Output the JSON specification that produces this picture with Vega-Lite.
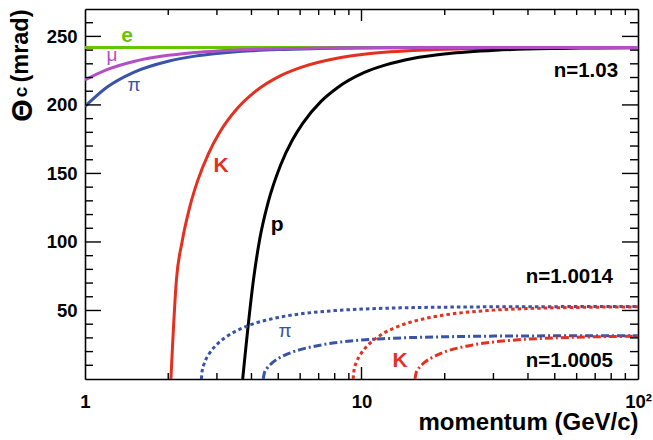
{
  "$schema": "https://vega.github.io/schema/vega-lite/v6.json",
  "width": 553,
  "height": 370,
  "autosize": {"type": "none"},
  "padding": {"left": 85, "top": 9, "right": 15, "bottom": 61},
  "background": "white",
  "datasets": {
    "curves": [
      {"n": "1.03", "particle": "e", "p": 1, "theta": 241.9},
      {"n": "1.03", "particle": "e", "p": 100, "theta": 241.9},

      {"n": "1.03", "particle": "pi", "p": 1, "theta": 198.9},
      {"n": "1.03", "particle": "pi", "p": 1.2, "theta": 212.9},
      {"n": "1.03", "particle": "pi", "p": 1.5, "theta": 223.8},
      {"n": "1.03", "particle": "pi", "p": 2, "theta": 231.9},
      {"n": "1.03", "particle": "pi", "p": 2.5, "theta": 235.6},
      {"n": "1.03", "particle": "pi", "p": 3, "theta": 237.5},
      {"n": "1.03", "particle": "pi", "p": 4, "theta": 239.5},
      {"n": "1.03", "particle": "pi", "p": 5, "theta": 240.4},
      {"n": "1.03", "particle": "pi", "p": 7, "theta": 241.1},
      {"n": "1.03", "particle": "pi", "p": 10, "theta": 241.55},
      {"n": "1.03", "particle": "pi", "p": 15, "theta": 241.76},
      {"n": "1.03", "particle": "pi", "p": 20, "theta": 241.84},
      {"n": "1.03", "particle": "pi", "p": 30, "theta": 241.9},
      {"n": "1.03", "particle": "pi", "p": 50, "theta": 241.93},
      {"n": "1.03", "particle": "pi", "p": 100, "theta": 241.94},

      {"n": "1.03", "particle": "K", "p": 2.045, "theta": 0},
      {"n": "1.03", "particle": "K", "p": 2.142, "theta": 72.9},
      {"n": "1.03", "particle": "K", "p": 2.244, "theta": 99.9},
      {"n": "1.03", "particle": "K", "p": 2.397, "theta": 126.1},
      {"n": "1.03", "particle": "K", "p": 2.55, "theta": 144.2},
      {"n": "1.03", "particle": "K", "p": 2.805, "theta": 165.1},
      {"n": "1.03", "particle": "K", "p": 3.06, "theta": 179.5},
      {"n": "1.03", "particle": "K", "p": 3.57, "theta": 197.9},
      {"n": "1.03", "particle": "K", "p": 4.08, "theta": 209.0},
      {"n": "1.03", "particle": "K", "p": 5.1, "theta": 221.4},
      {"n": "1.03", "particle": "K", "p": 6.12, "theta": 227.8},
      {"n": "1.03", "particle": "K", "p": 8.16, "theta": 234.1},
      {"n": "1.03", "particle": "K", "p": 10.2, "theta": 237.0},
      {"n": "1.03", "particle": "K", "p": 15.3, "theta": 239.75},
      {"n": "1.03", "particle": "K", "p": 20.4, "theta": 240.71},
      {"n": "1.03", "particle": "K", "p": 30.6, "theta": 241.39},
      {"n": "1.03", "particle": "K", "p": 51, "theta": 241.74},
      {"n": "1.03", "particle": "K", "p": 100, "theta": 241.89},

      {"n": "1.03", "particle": "p", "p": 3.718, "theta": 0},
      {"n": "1.03", "particle": "p", "p": 4.08, "theta": 74.5},
      {"n": "1.03", "particle": "p", "p": 4.284, "theta": 102.0},
      {"n": "1.03", "particle": "p", "p": 4.59, "theta": 128.5},
      {"n": "1.03", "particle": "p", "p": 5.1, "theta": 156.2},
      {"n": "1.03", "particle": "p", "p": 5.61, "theta": 174.0},
      {"n": "1.03", "particle": "p", "p": 6.12, "theta": 186.4},
      {"n": "1.03", "particle": "p", "p": 7.14, "theta": 202.6},
      {"n": "1.03", "particle": "p", "p": 8.16, "theta": 212.4},
      {"n": "1.03", "particle": "p", "p": 10.2, "theta": 223.5},
      {"n": "1.03", "particle": "p", "p": 12.24, "theta": 229.2},
      {"n": "1.03", "particle": "p", "p": 15.3, "theta": 233.9},
      {"n": "1.03", "particle": "p", "p": 20.4, "theta": 237.4},
      {"n": "1.03", "particle": "p", "p": 30.6, "theta": 239.96},
      {"n": "1.03", "particle": "p", "p": 51, "theta": 241.23},
      {"n": "1.03", "particle": "p", "p": 71.4, "theta": 241.58},
      {"n": "1.03", "particle": "p", "p": 100, "theta": 241.76},

      {"n": "1.03", "particle": "mu", "p": 1, "theta": 218.2},
      {"n": "1.03", "particle": "mu", "p": 1.2, "theta": 225.7},
      {"n": "1.03", "particle": "mu", "p": 1.5, "theta": 231.7},
      {"n": "1.03", "particle": "mu", "p": 2, "theta": 236.2},
      {"n": "1.03", "particle": "mu", "p": 2.5, "theta": 238.3},
      {"n": "1.03", "particle": "mu", "p": 3, "theta": 239.4},
      {"n": "1.03", "particle": "mu", "p": 4, "theta": 240.5},
      {"n": "1.03", "particle": "mu", "p": 5, "theta": 241.0},
      {"n": "1.03", "particle": "mu", "p": 7, "theta": 241.48},
      {"n": "1.03", "particle": "mu", "p": 10, "theta": 241.71},
      {"n": "1.03", "particle": "mu", "p": 20, "theta": 241.88},
      {"n": "1.03", "particle": "mu", "p": 50, "theta": 241.93},
      {"n": "1.03", "particle": "mu", "p": 100, "theta": 241.94},

      {"n": "1.0014", "particle": "pi", "p": 2.6367, "theta": 0},
      {"n": "1.0014", "particle": "pi", "p": 2.65, "theta": 5.3},
      {"n": "1.0014", "particle": "pi", "p": 2.7, "theta": 11.4},
      {"n": "1.0014", "particle": "pi", "p": 2.8, "theta": 17.8},
      {"n": "1.0014", "particle": "pi", "p": 3, "theta": 25.2},
      {"n": "1.0014", "particle": "pi", "p": 3.25, "theta": 30.9},
      {"n": "1.0014", "particle": "pi", "p": 3.5, "theta": 34.8},
      {"n": "1.0014", "particle": "pi", "p": 4, "theta": 39.8},
      {"n": "1.0014", "particle": "pi", "p": 4.5, "theta": 42.85},
      {"n": "1.0014", "particle": "pi", "p": 5, "theta": 44.93},
      {"n": "1.0014", "particle": "pi", "p": 6, "theta": 47.5},
      {"n": "1.0014", "particle": "pi", "p": 7, "theta": 48.99},
      {"n": "1.0014", "particle": "pi", "p": 8, "theta": 49.93},
      {"n": "1.0014", "particle": "pi", "p": 10, "theta": 51.01},
      {"n": "1.0014", "particle": "pi", "p": 12, "theta": 51.59},
      {"n": "1.0014", "particle": "pi", "p": 15, "theta": 52.06},
      {"n": "1.0014", "particle": "pi", "p": 20, "theta": 52.42},
      {"n": "1.0014", "particle": "pi", "p": 30, "theta": 52.68},
      {"n": "1.0014", "particle": "pi", "p": 50, "theta": 52.81},
      {"n": "1.0014", "particle": "pi", "p": 100, "theta": 52.87},

      {"n": "1.0014", "particle": "K", "p": 9.3263, "theta": 0},
      {"n": "1.0014", "particle": "K", "p": 9.4, "theta": 6.6},
      {"n": "1.0014", "particle": "K", "p": 9.6, "theta": 12.5},
      {"n": "1.0014", "particle": "K", "p": 10, "theta": 19.1},
      {"n": "1.0014", "particle": "K", "p": 10.5, "theta": 24.3},
      {"n": "1.0014", "particle": "K", "p": 11, "theta": 28.0},
      {"n": "1.0014", "particle": "K", "p": 12, "theta": 33.3},
      {"n": "1.0014", "particle": "K", "p": 13, "theta": 36.8},
      {"n": "1.0014", "particle": "K", "p": 15, "theta": 41.4},
      {"n": "1.0014", "particle": "K", "p": 17.5, "theta": 44.7},
      {"n": "1.0014", "particle": "K", "p": 20, "theta": 46.78},
      {"n": "1.0014", "particle": "K", "p": 25, "theta": 49.06},
      {"n": "1.0014", "particle": "K", "p": 30, "theta": 50.26},
      {"n": "1.0014", "particle": "K", "p": 40, "theta": 51.43},
      {"n": "1.0014", "particle": "K", "p": 50, "theta": 51.95},
      {"n": "1.0014", "particle": "K", "p": 70, "theta": 52.41},
      {"n": "1.0014", "particle": "K", "p": 100, "theta": 52.65},

      {"n": "1.0005", "particle": "pi", "p": 4.413, "theta": 0},
      {"n": "1.0005", "particle": "pi", "p": 4.45, "theta": 4.1},
      {"n": "1.0005", "particle": "pi", "p": 4.55, "theta": 7.7},
      {"n": "1.0005", "particle": "pi", "p": 4.75, "theta": 11.7},
      {"n": "1.0005", "particle": "pi", "p": 5, "theta": 14.9},
      {"n": "1.0005", "particle": "pi", "p": 5.5, "theta": 18.9},
      {"n": "1.0005", "particle": "pi", "p": 6, "theta": 21.4},
      {"n": "1.0005", "particle": "pi", "p": 7, "theta": 24.5},
      {"n": "1.0005", "particle": "pi", "p": 8, "theta": 26.4},
      {"n": "1.0005", "particle": "pi", "p": 10, "theta": 28.4},
      {"n": "1.0005", "particle": "pi", "p": 12, "theta": 29.4},
      {"n": "1.0005", "particle": "pi", "p": 15, "theta": 30.2},
      {"n": "1.0005", "particle": "pi", "p": 20, "theta": 30.8},
      {"n": "1.0005", "particle": "pi", "p": 30, "theta": 31.3},
      {"n": "1.0005", "particle": "pi", "p": 50, "theta": 31.5},
      {"n": "1.0005", "particle": "pi", "p": 100, "theta": 31.6},

      {"n": "1.0005", "particle": "K", "p": 15.61, "theta": 0},
      {"n": "1.0005", "particle": "K", "p": 15.75, "theta": 4.2},
      {"n": "1.0005", "particle": "K", "p": 16, "theta": 6.9},
      {"n": "1.0005", "particle": "K", "p": 16.5, "theta": 10.2},
      {"n": "1.0005", "particle": "K", "p": 17, "theta": 12.5},
      {"n": "1.0005", "particle": "K", "p": 18, "theta": 15.7},
      {"n": "1.0005", "particle": "K", "p": 19, "theta": 18.0},
      {"n": "1.0005", "particle": "K", "p": 20, "theta": 19.8},
      {"n": "1.0005", "particle": "K", "p": 22.5, "theta": 22.8},
      {"n": "1.0005", "particle": "K", "p": 25, "theta": 24.7},
      {"n": "1.0005", "particle": "K", "p": 30, "theta": 27.0},
      {"n": "1.0005", "particle": "K", "p": 35, "theta": 28.3},
      {"n": "1.0005", "particle": "K", "p": 40, "theta": 29.1},
      {"n": "1.0005", "particle": "K", "p": 50, "theta": 30.0},
      {"n": "1.0005", "particle": "K", "p": 60, "theta": 30.5},
      {"n": "1.0005", "particle": "K", "p": 80, "theta": 31.0},
      {"n": "1.0005", "particle": "K", "p": 100, "theta": 31.2}
    ],
    "frameTicks": [
      {"tick": "b10", "p": 10, "theta": 0}, {"tick": "b10", "p": 10, "theta": 8.76},
      {"tick": "t10", "p": 10, "theta": 270}, {"tick": "t10", "p": 10, "theta": 261.24},
      {"tick": "b2", "p": 2, "theta": 0}, {"tick": "b2", "p": 2, "theta": 4.38},
      {"tick": "b3", "p": 3, "theta": 0}, {"tick": "b3", "p": 3, "theta": 4.38},
      {"tick": "b4", "p": 4, "theta": 0}, {"tick": "b4", "p": 4, "theta": 4.38},
      {"tick": "b5", "p": 5, "theta": 0}, {"tick": "b5", "p": 5, "theta": 4.38},
      {"tick": "b6", "p": 6, "theta": 0}, {"tick": "b6", "p": 6, "theta": 4.38},
      {"tick": "b7", "p": 7, "theta": 0}, {"tick": "b7", "p": 7, "theta": 4.38},
      {"tick": "b8", "p": 8, "theta": 0}, {"tick": "b8", "p": 8, "theta": 4.38},
      {"tick": "b9", "p": 9, "theta": 0}, {"tick": "b9", "p": 9, "theta": 4.38},
      {"tick": "b20", "p": 20, "theta": 0}, {"tick": "b20", "p": 20, "theta": 4.38},
      {"tick": "b30", "p": 30, "theta": 0}, {"tick": "b30", "p": 30, "theta": 4.38},
      {"tick": "b40", "p": 40, "theta": 0}, {"tick": "b40", "p": 40, "theta": 4.38},
      {"tick": "b50", "p": 50, "theta": 0}, {"tick": "b50", "p": 50, "theta": 4.38},
      {"tick": "b60", "p": 60, "theta": 0}, {"tick": "b60", "p": 60, "theta": 4.38},
      {"tick": "b70", "p": 70, "theta": 0}, {"tick": "b70", "p": 70, "theta": 4.38},
      {"tick": "b80", "p": 80, "theta": 0}, {"tick": "b80", "p": 80, "theta": 4.38},
      {"tick": "b90", "p": 90, "theta": 0}, {"tick": "b90", "p": 90, "theta": 4.38},
      {"tick": "t2", "p": 2, "theta": 270}, {"tick": "t2", "p": 2, "theta": 265.62},
      {"tick": "t3", "p": 3, "theta": 270}, {"tick": "t3", "p": 3, "theta": 265.62},
      {"tick": "t4", "p": 4, "theta": 270}, {"tick": "t4", "p": 4, "theta": 265.62},
      {"tick": "t5", "p": 5, "theta": 270}, {"tick": "t5", "p": 5, "theta": 265.62},
      {"tick": "t6", "p": 6, "theta": 270}, {"tick": "t6", "p": 6, "theta": 265.62},
      {"tick": "t7", "p": 7, "theta": 270}, {"tick": "t7", "p": 7, "theta": 265.62},
      {"tick": "t8", "p": 8, "theta": 270}, {"tick": "t8", "p": 8, "theta": 265.62},
      {"tick": "t9", "p": 9, "theta": 270}, {"tick": "t9", "p": 9, "theta": 265.62},
      {"tick": "t20", "p": 20, "theta": 270}, {"tick": "t20", "p": 20, "theta": 265.62},
      {"tick": "t30", "p": 30, "theta": 270}, {"tick": "t30", "p": 30, "theta": 265.62},
      {"tick": "t40", "p": 40, "theta": 270}, {"tick": "t40", "p": 40, "theta": 265.62},
      {"tick": "t50", "p": 50, "theta": 270}, {"tick": "t50", "p": 50, "theta": 265.62},
      {"tick": "t60", "p": 60, "theta": 270}, {"tick": "t60", "p": 60, "theta": 265.62},
      {"tick": "t70", "p": 70, "theta": 270}, {"tick": "t70", "p": 70, "theta": 265.62},
      {"tick": "t80", "p": 80, "theta": 270}, {"tick": "t80", "p": 80, "theta": 265.62},
      {"tick": "t90", "p": 90, "theta": 270}, {"tick": "t90", "p": 90, "theta": 265.62},
      {"tick": "l50", "p": 1, "theta": 50}, {"tick": "l50", "p": 1.1426, "theta": 50},
      {"tick": "l100", "p": 1, "theta": 100}, {"tick": "l100", "p": 1.1426, "theta": 100},
      {"tick": "l150", "p": 1, "theta": 150}, {"tick": "l150", "p": 1.1426, "theta": 150},
      {"tick": "l200", "p": 1, "theta": 200}, {"tick": "l200", "p": 1.1426, "theta": 200},
      {"tick": "l250", "p": 1, "theta": 250}, {"tick": "l250", "p": 1.1426, "theta": 250},
      {"tick": "r50", "p": 87.52, "theta": 50}, {"tick": "r50", "p": 100, "theta": 50},
      {"tick": "r100", "p": 87.52, "theta": 100}, {"tick": "r100", "p": 100, "theta": 100},
      {"tick": "r150", "p": 87.52, "theta": 150}, {"tick": "r150", "p": 100, "theta": 150},
      {"tick": "r200", "p": 87.52, "theta": 200}, {"tick": "r200", "p": 100, "theta": 200},
      {"tick": "r250", "p": 87.52, "theta": 250}, {"tick": "r250", "p": 100, "theta": 250},
      {"tick": "l10", "p": 1, "theta": 10}, {"tick": "l10", "p": 1.0689, "theta": 10},
      {"tick": "l20", "p": 1, "theta": 20}, {"tick": "l20", "p": 1.0689, "theta": 20},
      {"tick": "l30", "p": 1, "theta": 30}, {"tick": "l30", "p": 1.0689, "theta": 30},
      {"tick": "l40", "p": 1, "theta": 40}, {"tick": "l40", "p": 1.0689, "theta": 40},
      {"tick": "l60", "p": 1, "theta": 60}, {"tick": "l60", "p": 1.0689, "theta": 60},
      {"tick": "l70", "p": 1, "theta": 70}, {"tick": "l70", "p": 1.0689, "theta": 70},
      {"tick": "l80", "p": 1, "theta": 80}, {"tick": "l80", "p": 1.0689, "theta": 80},
      {"tick": "l90", "p": 1, "theta": 90}, {"tick": "l90", "p": 1.0689, "theta": 90},
      {"tick": "l110", "p": 1, "theta": 110}, {"tick": "l110", "p": 1.0689, "theta": 110},
      {"tick": "l120", "p": 1, "theta": 120}, {"tick": "l120", "p": 1.0689, "theta": 120},
      {"tick": "l130", "p": 1, "theta": 130}, {"tick": "l130", "p": 1.0689, "theta": 130},
      {"tick": "l140", "p": 1, "theta": 140}, {"tick": "l140", "p": 1.0689, "theta": 140},
      {"tick": "l160", "p": 1, "theta": 160}, {"tick": "l160", "p": 1.0689, "theta": 160},
      {"tick": "l170", "p": 1, "theta": 170}, {"tick": "l170", "p": 1.0689, "theta": 170},
      {"tick": "l180", "p": 1, "theta": 180}, {"tick": "l180", "p": 1.0689, "theta": 180},
      {"tick": "l190", "p": 1, "theta": 190}, {"tick": "l190", "p": 1.0689, "theta": 190},
      {"tick": "l210", "p": 1, "theta": 210}, {"tick": "l210", "p": 1.0689, "theta": 210},
      {"tick": "l220", "p": 1, "theta": 220}, {"tick": "l220", "p": 1.0689, "theta": 220},
      {"tick": "l230", "p": 1, "theta": 230}, {"tick": "l230", "p": 1.0689, "theta": 230},
      {"tick": "l240", "p": 1, "theta": 240}, {"tick": "l240", "p": 1.0689, "theta": 240},
      {"tick": "l260", "p": 1, "theta": 260}, {"tick": "l260", "p": 1.0689, "theta": 260},
      {"tick": "r10", "p": 93.55, "theta": 10}, {"tick": "r10", "p": 100, "theta": 10},
      {"tick": "r20", "p": 93.55, "theta": 20}, {"tick": "r20", "p": 100, "theta": 20},
      {"tick": "r30", "p": 93.55, "theta": 30}, {"tick": "r30", "p": 100, "theta": 30},
      {"tick": "r40", "p": 93.55, "theta": 40}, {"tick": "r40", "p": 100, "theta": 40},
      {"tick": "r60", "p": 93.55, "theta": 60}, {"tick": "r60", "p": 100, "theta": 60},
      {"tick": "r70", "p": 93.55, "theta": 70}, {"tick": "r70", "p": 100, "theta": 70},
      {"tick": "r80", "p": 93.55, "theta": 80}, {"tick": "r80", "p": 100, "theta": 80},
      {"tick": "r90", "p": 93.55, "theta": 90}, {"tick": "r90", "p": 100, "theta": 90},
      {"tick": "r110", "p": 93.55, "theta": 110}, {"tick": "r110", "p": 100, "theta": 110},
      {"tick": "r120", "p": 93.55, "theta": 120}, {"tick": "r120", "p": 100, "theta": 120},
      {"tick": "r130", "p": 93.55, "theta": 130}, {"tick": "r130", "p": 100, "theta": 130},
      {"tick": "r140", "p": 93.55, "theta": 140}, {"tick": "r140", "p": 100, "theta": 140},
      {"tick": "r160", "p": 93.55, "theta": 160}, {"tick": "r160", "p": 100, "theta": 160},
      {"tick": "r170", "p": 93.55, "theta": 170}, {"tick": "r170", "p": 100, "theta": 170},
      {"tick": "r180", "p": 93.55, "theta": 180}, {"tick": "r180", "p": 100, "theta": 180},
      {"tick": "r190", "p": 93.55, "theta": 190}, {"tick": "r190", "p": 100, "theta": 190},
      {"tick": "r210", "p": 93.55, "theta": 210}, {"tick": "r210", "p": 100, "theta": 210},
      {"tick": "r220", "p": 93.55, "theta": 220}, {"tick": "r220", "p": 100, "theta": 220},
      {"tick": "r230", "p": 93.55, "theta": 230}, {"tick": "r230", "p": 100, "theta": 230},
      {"tick": "r240", "p": 93.55, "theta": 240}, {"tick": "r240", "p": 100, "theta": 240},
      {"tick": "r260", "p": 93.55, "theta": 260}, {"tick": "r260", "p": 100, "theta": 260}
    ],
    "boldLabels": [
      {"p": 1.419, "theta": 245.6, "label": "e", "particle": "e"},
      {"p": 3.104, "theta": 150.7, "label": "K", "particle": "K"},
      {"p": 4.95, "theta": 107.7, "label": "p", "particle": "p"},
      {"p": 13.78, "theta": 9.1, "label": "K", "particle": "K"}
    ],
    "greekLabels": [
      {"p": 1.252, "theta": 231.8, "label": "μ", "particle": "mu"},
      {"p": 1.504, "theta": 209.9, "label": "π", "particle": "pi"},
      {"p": 5.29, "theta": 31.0, "label": "π", "particle": "pi"}
    ],
    "indexLabels": [
      {"p": 84.7, "theta": 220.1, "label": "n=1.03"},
      {"p": 81.2, "theta": 70.4, "label": "n=1.0014"},
      {"p": 81.2, "theta": 9.1, "label": "n=1.0005"}
    ]
  },
  "layer": [
    {
      "data": {"name": "curves"},
      "transform": [{"filter": "datum.n == '1.03'"}],
      "mark": {"type": "line", "strokeWidth": 3, "interpolate": "monotone", "clip": true},
      "encoding": {
        "x": {
          "field": "p", "type": "quantitative",
          "scale": {"type": "log", "domain": [1, 100], "nice": false},
          "axis": {
            "orient": "bottom", "values": [1, 10, 100], "ticks": false,
            "labelExpr": "datum.value == 100 ? '10²' : datum.value == 10 ? '10' : '1'",
            "labelPadding": 13, "labelFlush": false, "labelBaseline": "top",
            "domain": true,
            "title": "momentum (GeV/c)", "titleX": 553, "titleY": 50,
            "titleAlign": "right", "titleBaseline": "alphabetic", "titleAnchor": "end", "titleFontSize": 24
          }
        },
        "y": {
          "field": "theta", "type": "quantitative",
          "scale": {"domain": [0, 270], "nice": false, "zero": false},
          "axis": {
            "orient": "left", "values": [50, 100, 150, 200, 250], "ticks": false,
            "labelPadding": 8, "labelBaseline": "middle", "domain": true,
            "title": "Θ", "titleAngle": 270, "titleX": -53.5, "titleY": 101,
            "titleAlign": "center", "titleBaseline": "alphabetic", "titleFontSize": 29
          }
        },
        "color": {
          "field": "particle", "type": "nominal",
          "scale": {"domain": ["e", "mu", "pi", "K", "p"], "range": ["#66c400", "#b24fc6", "#3853a8", "#e4301f", "#000000"]},
          "legend": null
        }
      }
    },
    {
      "data": {"name": "curves"},
      "transform": [{"filter": "datum.n == '1.0014'"}],
      "mark": {"type": "line", "strokeWidth": 3, "strokeDash": [3.5, 3], "interpolate": "monotone", "clip": true},
      "encoding": {
        "x": {"field": "p", "type": "quantitative", "scale": {"type": "log", "domain": [1, 100], "nice": false}, "axis": null},
        "y": {"field": "theta", "type": "quantitative", "scale": {"domain": [0, 270], "nice": false, "zero": false}, "axis": null},
        "color": {"field": "particle", "type": "nominal", "legend": null}
      }
    },
    {
      "data": {"name": "curves"},
      "transform": [{"filter": "datum.n == '1.0005'"}],
      "mark": {"type": "line", "strokeWidth": 3, "strokeDash": [8, 3, 2, 3], "interpolate": "monotone", "clip": true},
      "encoding": {
        "x": {"field": "p", "type": "quantitative", "scale": {"type": "log", "domain": [1, 100], "nice": false}, "axis": null},
        "y": {"field": "theta", "type": "quantitative", "scale": {"domain": [0, 270], "nice": false, "zero": false}, "axis": null},
        "color": {"field": "particle", "type": "nominal", "legend": null}
      }
    },
    {
      "data": {"name": "frameTicks"},
      "mark": {"type": "line", "color": "black", "strokeWidth": 1.4},
      "encoding": {
        "x": {"field": "p", "type": "quantitative", "scale": {"type": "log", "domain": [1, 100], "nice": false}, "axis": null},
        "y": {"field": "theta", "type": "quantitative", "scale": {"domain": [0, 270], "nice": false, "zero": false}, "axis": null},
        "detail": {"field": "tick", "type": "nominal"}
      }
    },
    {
      "data": {"name": "boldLabels"},
      "mark": {"type": "text", "font": "Liberation Sans", "fontWeight": "bold", "fontSize": 21, "align": "center", "baseline": "alphabetic"},
      "encoding": {
        "x": {"field": "p", "type": "quantitative", "scale": {"type": "log", "domain": [1, 100], "nice": false}, "axis": null},
        "y": {"field": "theta", "type": "quantitative", "scale": {"domain": [0, 270], "nice": false, "zero": false}, "axis": null},
        "text": {"field": "label"},
        "color": {"field": "particle", "type": "nominal", "legend": null}
      }
    },
    {
      "data": {"name": "greekLabels"},
      "mark": {"type": "text", "font": "Liberation Sans", "fontWeight": "normal", "fontSize": 19, "align": "center", "baseline": "alphabetic"},
      "encoding": {
        "x": {"field": "p", "type": "quantitative", "scale": {"type": "log", "domain": [1, 100], "nice": false}, "axis": null},
        "y": {"field": "theta", "type": "quantitative", "scale": {"domain": [0, 270], "nice": false, "zero": false}, "axis": null},
        "text": {"field": "label"},
        "color": {"field": "particle", "type": "nominal", "legend": null}
      }
    },
    {
      "data": {"name": "indexLabels"},
      "mark": {"type": "text", "font": "Liberation Sans", "fontWeight": "bold", "fontSize": 20.5, "align": "right", "baseline": "alphabetic", "color": "black"},
      "encoding": {
        "x": {
          "field": "p", "type": "quantitative",
          "scale": {"type": "log", "domain": [1, 100], "nice": false},
          "axis": {
            "orient": "top", "ticks": false, "labels": false, "domain": true,
            "title": "(mrad)", "titleAngle": 270, "titleX": -58, "titleY": 36.5,
            "titleAlign": "center", "titleBaseline": "alphabetic", "titleFontSize": 23.5
          }
        },
        "y": {
          "field": "theta", "type": "quantitative",
          "scale": {"domain": [0, 270], "nice": false, "zero": false},
          "axis": {
            "orient": "right", "ticks": false, "labels": false, "domain": true,
            "title": "c", "titleAngle": 270, "titleX": -612, "titleY": 82.5,
            "titleAlign": "center", "titleBaseline": "alphabetic", "titleFontSize": 19
          }
        },
        "text": {"field": "label"}
      }
    }
  ],
  "resolve": {"axis": {"x": "independent", "y": "independent"}},
  "config": {
    "view": {"stroke": null, "fill": null},
    "axis": {
      "grid": false, "zindex": 1,
      "domainColor": "black", "domainWidth": 1.6,
      "labelFont": "Liberation Sans", "labelFontWeight": "bold", "labelFontSize": 18.5, "labelColor": "black",
      "titleFont": "Liberation Sans", "titleFontWeight": "bold", "titleFontSize": 23.5, "titleColor": "black", "titlePadding": 0
    }
  }
}
